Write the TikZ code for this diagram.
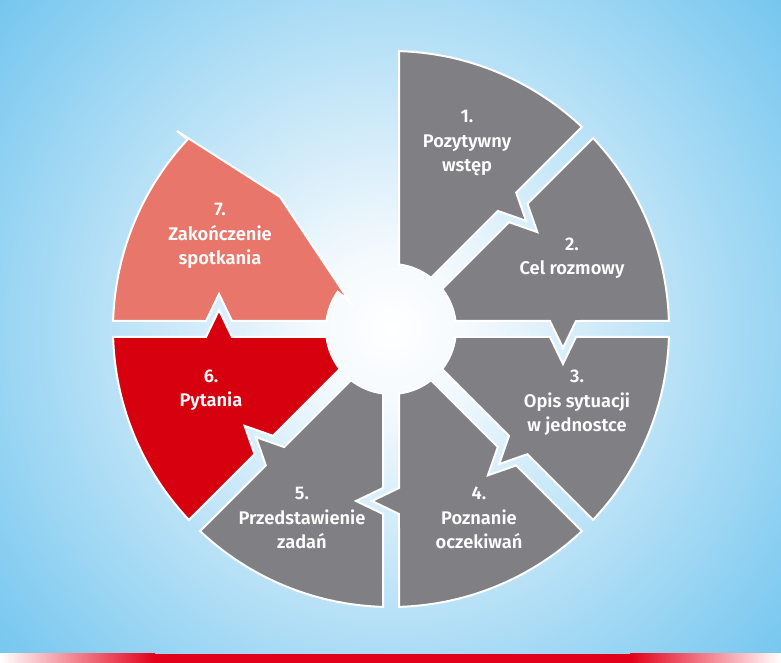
\documentclass[tikz,border=0pt]{standalone}
\usepackage{fontspec}
\setmainfont{Fira Sans SemiBold}
\definecolor{bgblue}{RGB}{116,198,239}
\definecolor{bgcentre}{RGB}{243,249,253}
\definecolor{segg}{RGB}{128,127,132}
\definecolor{segr}{RGB}{214,0,15}
\definecolor{segs}{RGB}{232,118,106}
\definecolor{barred}{RGB}{226,0,26}
% soft glow: near-white centre fading to sky blue at the corners
\pgfdeclareradialshading{bgglow}{\pgfpoint{0bp}{0bp}}{color(0bp)=(white); color(4bp)=(bgcentre); color(25bp)=(bgblue); color(50bp)=(bgblue)}
\begin{document}
\begin{tikzpicture}[x=1pt,y=1pt,
  seg/.style={draw=white, line width=2pt, line join=miter},
  lbl/.style={text=white, align=center, inner sep=0pt, font=\fontsize{18.3}{24.5}\selectfont}]
\useasboundingbox (0,0) rectangle (781,663);

% background
\begin{scope}
  \clip (0,0) rectangle (781,663);
  \shade[shading=bgglow] (391,334) circle (515);
\end{scope}

% red strip along the bottom edge
\fill[white] (0,0) rectangle (781,9);
\shade[left color=white, right color=barred] (0,0) rectangle (155,9);
\fill[barred] (155,0) rectangle (630,9);
\shade[left color=barred, right color=white] (630,0) rectangle (781,9);

\begin{scope}[shift={(391,334)}]
  % step 1: plain left edge, arrow on the clockwise edge
  \filldraw[seg, fill=segg]
    ({90-7.07}:65) -- ({90-1.649}:278)
    arc[start angle=88.351, end angle=46.649, radius=278]
    -- ({45+atan2(8,185)}:{veclen(185,8)})
    -- ({45+atan2(-19,172)}:{veclen(172,19)})
    -- ({45+atan2(8,159)}:{veclen(159,8)})
    -- ({45+7.07}:65)
    arc[start angle=52.07, end angle=82.93, radius=65] -- cycle;

  % steps 2-6: notch on the leading edge, arrow on the trailing edge
  \foreach \a/\c in {45/segg, 0/segg, -45/segg, -90/segg, -135/segr} {
    \pgfmathsetmacro\b{\a-45}
    \filldraw[seg, fill=\c]
      ({\a-7.07}:65)
      -- ({\a+atan2(-8,159)}:{veclen(159,8)})
      -- ({\a+atan2(-35,172)}:{veclen(172,35)})
      -- ({\a+atan2(-8,185)}:{veclen(185,8)})
      -- ({\a-1.649}:278)
      arc[start angle=\a-1.649, end angle=\b+1.649, radius=278]
      -- ({\b+atan2(8,185)}:{veclen(185,8)})
      -- ({\b+atan2(-19,172)}:{veclen(172,19)})
      -- ({\b+atan2(8,159)}:{veclen(159,8)})
      -- ({\b+7.07}:65)
      arc[start angle=\b+7.07, end angle=\a-7.07, radius=65] -- cycle;
  }

  % step 7: notch below, slanted upper edge
  \filldraw[seg, fill=segs]
    ({180-7.07}:65)
    -- ({180+atan2(-8,159)}:{veclen(159,8)})
    -- ({180+atan2(-35,172)}:{veclen(172,35)})
    -- ({180+atan2(-8,185)}:{veclen(185,8)})
    -- ({180-1.649}:278)
    arc[start angle=178.351, end angle=137, radius=278]
    -- (-214,198) -- (-111,132) -- (-41,27) -- (145:65)
    arc[start angle=145, end angle=172.93, radius=65] -- cycle;

  % step labels
  \node[lbl] (t1) at (76,186)   {1.\\Pozytywny\\wstęp};
  \node[lbl] (t2) at (181,71)   {2.\\Cel rozmowy};
  \node[lbl] (t3) at (186,-74)  {3.\\Opis sytuacji\\w jednostce};
  \node[lbl] (t4) at (88,-189)  {4.\\Poznanie\\oczekiwań};
  \node[lbl] (t5) at (-89,-189) {5.\\Przedstawienie\\zadań};
  \node[lbl] (t6) at (-180,-61) {6.\\Pytania};
  \node[lbl] (t7) at (-171,93)  {7.\\Zakończenie\\spotkania};
\end{scope}
\end{tikzpicture}
\end{document}
